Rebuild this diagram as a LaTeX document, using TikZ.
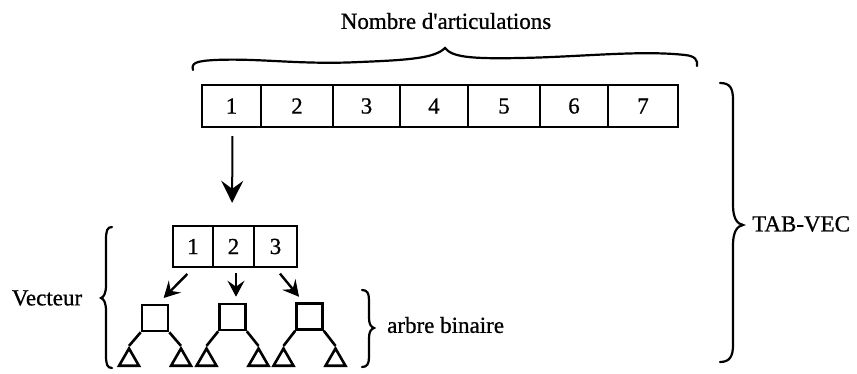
\documentclass[tikz,border=0pt]{standalone}
\usepackage{fontspec}
\setmainfont{Liberation Serif}[FakeBold=0.8]
\usetikzlibrary{arrows.meta,shapes.geometric}
\begin{document}
\begin{tikzpicture}[x=1pt,y=-1pt,
  txt/.style={font=\fontsize{23}{27}\selectfont, inner sep=0pt},
  cell/.style={draw, line width=2.4pt, minimum height=42pt, inner sep=0pt, font=\fontsize{23}{27}\selectfont},
  scell/.style={cell, minimum height=41pt},
  sqbox/.style={draw, line width=2.6pt, minimum size=26pt, inner sep=0pt},
  tri/.style={draw, line width=2.6pt, regular polygon, regular polygon sides=3, minimum size=23pt, inner sep=0pt},
  edge/.style={line width=2.6pt},
  bracestyle/.style={line width=2.2pt, line cap=round},
  bigarrow/.style={line width=2pt, -{Stealth[length=22pt,width=22pt,inset=8pt]}},
  smallarrow/.style={line width=2.4pt, -{Stealth[length=16pt,width=17pt,inset=6pt]}}]
\useasboundingbox (0,0) rectangle (857,374);
\clip (0,0) rectangle (857,374);

% title and top brace
\node[txt] (title) at (446,21) {Nombre d\textquotesingle articulations};
\draw[bracestyle] (193,70) .. controls (191,63) and (196,61) .. (215,60)
  .. controls (260,58) and (300,65) .. (360,62)
  .. controls (410,60) and (435,58) .. (445,48)
  .. controls (452,57) and (470,59) .. (520,58)
  .. controls (580,57) and (640,50) .. (685,55)
  .. controls (695,56) and (698,60) .. (697,66);

% main array
\node[cell, minimum width=59pt] (a1) at (231.5,106) {1};
\node[cell, minimum width=72pt] (a2) at (297,106) {2};
\node[cell, minimum width=67pt] (a3) at (366.5,106) {3};
\node[cell, minimum width=68pt] (a4) at (434,106) {4};
\node[cell, minimum width=72pt] (a5) at (504,106) {5};
\node[cell, minimum width=68pt] (a6) at (574,106) {6};
\node[cell, minimum width=70pt] (a7) at (643,106) {7};

% small array
\node[scell, minimum width=40pt] (b1) at (193,246.5) {1};
\node[scell, minimum width=41pt] (b2) at (233.5,246.5) {2};
\node[scell, minimum width=43pt] (b3) at (275.5,246.5) {3};

\draw[bigarrow, shorten <=8pt, shorten >=22pt] ([xshift=1pt]a1.south) -- ([xshift=-1.5pt]b2.north);

% trees
\foreach \i/\cx/\cy in {1/155/318, 2/232.5/317, 3/309.5/316.5}{
  \node[sqbox] (sq\i) at (\cx,\cy) {};
  \node[tri] (tl\i) at ({\cx-26},360) {};
  \node[tri] (tr\i) at ({\cx+26},360) {};
  \draw[edge] (sq\i.south west) -- (tl\i.corner 1);
  \draw[edge] (sq\i.south east) -- (tr\i.corner 1);
}

\draw[smallarrow, shorten <=8pt, shorten >=8pt] (b1.south) -- ([xshift=3pt]sq1.north);
\draw[smallarrow, shorten <=5pt, shorten >=6pt] ([xshift=2.5pt]b2.south) -- ([xshift=3.5pt]sq2.north);
\draw[smallarrow, shorten <=7pt, shorten >=7pt] (b3.south) -- ([xshift=-6pt]sq3.north);

% Vecteur brace and label
\node[txt] (vect) at (47,298) {Vecteur};
\draw[bracestyle] (112,227) .. controls (107,227) and (106,231) .. (106,240) -- (106,285)
  .. controls (106,293) and (104,297) .. (101,298)
  .. controls (104,299) and (106,303) .. (106,311) -- (106,355)
  .. controls (106,364) and (107,368) .. (112,368);

% arbre binaire brace and label
\draw[bracestyle] (362,290) .. controls (367,290) and (369,293) .. (369,300) -- (369,318)
  .. controls (369,324) and (371,327) .. (374,328)
  .. controls (371,329) and (369,332) .. (369,338) -- (369,357)
  .. controls (369,364) and (367,367) .. (362,367);
\node[txt, anchor=west] (arbre) at (387,325) {arbre binaire};

% right brace and label
\draw[bracestyle] (720,83) .. controls (730,83) and (733,88) .. (733,100) -- (733,205)
  .. controls (733,218) and (737,224) .. (743,225)
  .. controls (737,226) and (733,232) .. (733,245) -- (733,345)
  .. controls (733,356) and (730,362) .. (720,362);
\node[txt, anchor=west] (tab) at (752,224) {TAB-VEC};
\end{tikzpicture}
\end{document}
